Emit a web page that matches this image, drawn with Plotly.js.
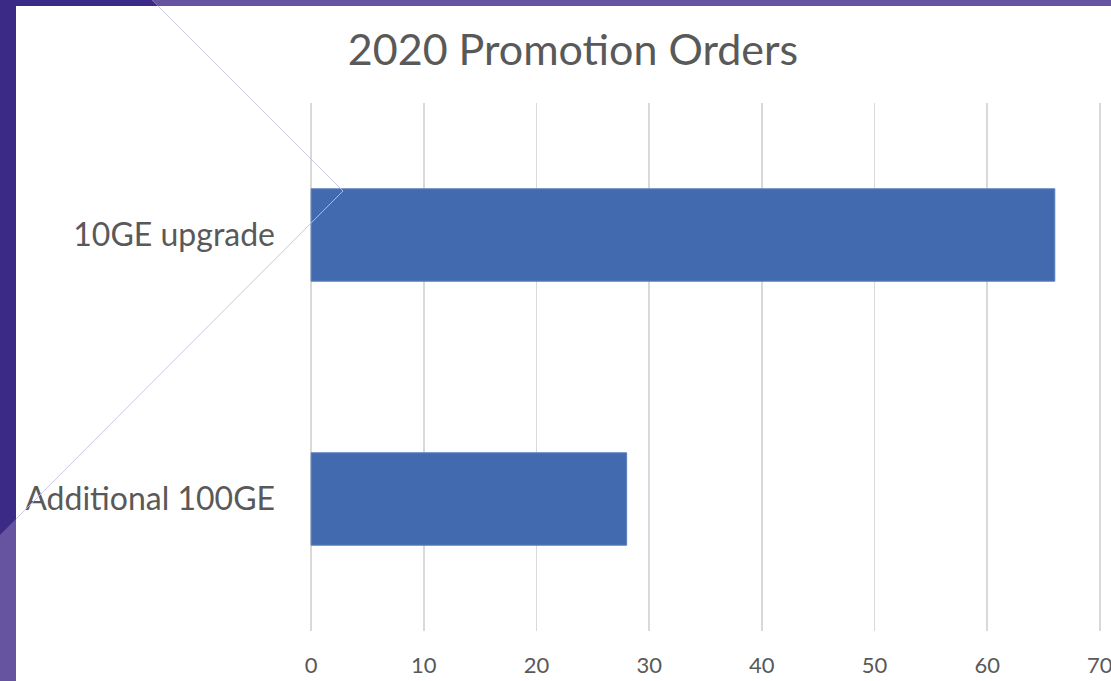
<!DOCTYPE html>
<html>
<head>
<meta charset="utf-8">
<script src="https://cdn.plot.ly/plotly-3.0.1.min.js"></script>
<style>
  html, body { margin: 0; padding: 0; background: #ffffff; }
  #chart { width: 1111px; height: 681px; }
</style>
</head>
<body>
<div id="chart"></div>
<script>
// ---- data ----
const categories = ["Additional 100GE", "10GE upgrade"];
const orders = [28, 66];
const xTicks = [0, 10, 20, 30, 40, 50, 60, 70];
const chartTitle = "2020 Promotion Orders";

// ---- layout geometry (pixels) ----
const W = 1111, H = 681;
const M = { l: 310, r: 10, t: 103, b: 50 };
const PW = W - M.l - M.r, PH = H - M.t - M.b;
const px = x => (x - M.l) / PW;
const py = y => (H - M.b - y) / PH;
function path(points) {
  return points.map((p, i) => (i ? "L" : "M") + px(p[0]).toFixed(5) + "," + py(p[1]).toFixed(5)).join(" ") + " Z";
}
function line(p1, p2) {
  return "M" + px(p1[0]).toFixed(5) + "," + py(p1[1]).toFixed(5) + " L" + px(p2[0]).toFixed(5) + "," + py(p2[1]).toFixed(5);
}

const darkPurple = "#3b2a86";
const lightPurple = "#6654a0";
const lineColor = "rgba(196,192,234,0.9)";

const shapes = [
  { type: "path", xref: "paper", yref: "paper", layer: "below", path: path([[0,0],[16,0],[16,681],[0,681]]), fillcolor: darkPurple, line: { width: 0 } },
  { type: "path", xref: "paper", yref: "paper", layer: "below", path: path([[0,0],[152,0],[158,6],[0,6]]), fillcolor: darkPurple, line: { width: 0 } },
  { type: "path", xref: "paper", yref: "paper", layer: "below", path: path([[152,0],[1111,0],[1111,6],[158,6]]), fillcolor: lightPurple, line: { width: 0 } },
  { type: "path", xref: "paper", yref: "paper", layer: "below", path: path([[0,535],[16,519],[16,681],[0,681]]), fillcolor: lightPurple, line: { width: 0 } },
  { type: "path", xref: "paper", yref: "paper", layer: "above", path: line([158,6],[343,191]), line: { color: lineColor, width: 1 } },
  { type: "path", xref: "paper", yref: "paper", layer: "above", path: line([343,191],[16,519]), line: { color: lineColor, width: 1 } }
];

const trace = {
  type: "bar",
  orientation: "h",
  y: categories,
  x: orders,
  marker: { color: "#416aaf", line: { color: "#5b80c0", width: 1 } },
  hoverinfo: "x+y"
};

const font = "Lato, 'Open Sans', sans-serif";
const layout = {
  width: W, height: H,
  margin: M,
  paper_bgcolor: "#ffffff",
  plot_bgcolor: "#ffffff",
  showlegend: false,
  bargap: 0.65,
  title: {
    text: chartTitle,
    x: 573 / W, xref: "container", xanchor: "center",
    y: 1 - 50 / H, yref: "container", yanchor: "middle",
    font: { family: font, size: 43, color: "#595959" }
  },
  xaxis: {
    range: [-0.1, 70.1],
    tickvals: xTicks,
    ticktext: xTicks.map(String),
    showgrid: true, gridcolor: "#d9d9d9", gridwidth: 1.5,
    zeroline: false, showline: false, ticks: "",
    ticklabelstandoff: 19,
    ticklabeloverflow: "allow",
    tickfont: { family: font, size: 22, color: "#595959" },
    fixedrange: true
  },
  yaxis: {
    type: "category",
    categoryorder: "array", categoryarray: categories,
    showgrid: false, zeroline: false, showline: false, ticks: "",
    ticklabelstandoff: 34,
    tickfont: { family: font, size: 32, color: "#595959" },
    fixedrange: true
  },
  shapes: shapes
};

Plotly.newPlot("chart", [trace], layout, { displayModeBar: false, staticPlot: true });
</script>
</body>
</html>
